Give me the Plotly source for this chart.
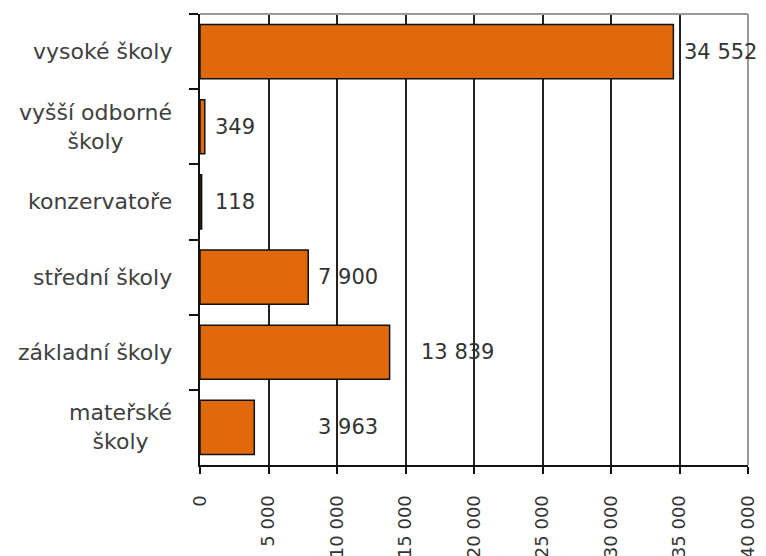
import plotly.graph_objects as go

categories = ["vysoké školy", "vyšší odborné<br>školy", "konzervatoře",
              "střední školy", "základní školy", "mateřské<br>školy"]
values = [34552, 349, 118, 7900, 13839, 3963]
value_labels = ["34 552", "349", "118", "7 900", "13 839", "3 963"]
label_x = [35200, 950, 950, 8500, 16000, 8500]
tick_vals = [0, 5000, 10000, 15000, 20000, 25000, 30000, 35000, 40000]
tick_text = ["0", "5 000", "10 000", "15 000", "20 000", "25 000", "30 000", "35 000", "40 000"]

fig = go.Figure()
fig.add_trace(go.Bar(
    y=categories, x=values, orientation="h",
    marker=dict(color="#E0690B", line=dict(color="#111111", width=1.5)),
    hoverinfo="skip",
))

for cat, lx, txt in zip(categories, label_x, value_labels):
    fig.add_annotation(x=lx, y=cat, xref="x", yref="y", text=txt, showarrow=False,
                       xanchor="left", yanchor="middle",
                       font=dict(family="DejaVu Sans", size=21, color="#333333"))
    fig.add_annotation(x=0, y=cat, xref="paper", yref="y", text=cat, showarrow=False,
                       xanchor="right", yanchor="middle", align="center", xshift=-26,
                       font=dict(family="DejaVu Sans", size=22, color="#404040"))

fig.update_layout(
    width=766, height=556,
    margin=dict(l=200, r=18, t=14, b=91),
    paper_bgcolor="white", plot_bgcolor="white",
    bargap=0.28, showlegend=False,
    xaxis=dict(range=[0, 40000], tickvals=tick_vals, ticktext=tick_text,
               tickangle=-90, showgrid=True, gridcolor="#222222", gridwidth=2,
               showline=True, linecolor="#111111", linewidth=2,
               ticks="outside", ticklen=7, tickwidth=2, tickcolor="#111111",
               ticklabelstandoff=14, zeroline=False, automargin=False,
               tickfont=dict(family="DejaVu Sans", size=18, color="#333333")),
    yaxis=dict(autorange="reversed", showticklabels=False, tickson="boundaries",
               ticks="outside", ticklen=9, tickwidth=2, tickcolor="#111111",
               showline=True, linecolor="#111111", linewidth=2, showgrid=False,
               automargin=False),
)
fig.add_shape(type="line", xref="paper", yref="paper", x0=0, x1=1, y0=1, y1=1,
              line=dict(color="#999999", width=2), layer="above")
fig.add_shape(type="line", xref="paper", yref="paper", x0=1, x1=1, y0=0, y1=1,
              line=dict(color="#999999", width=2), layer="above")

fig.write_html("out.html")
